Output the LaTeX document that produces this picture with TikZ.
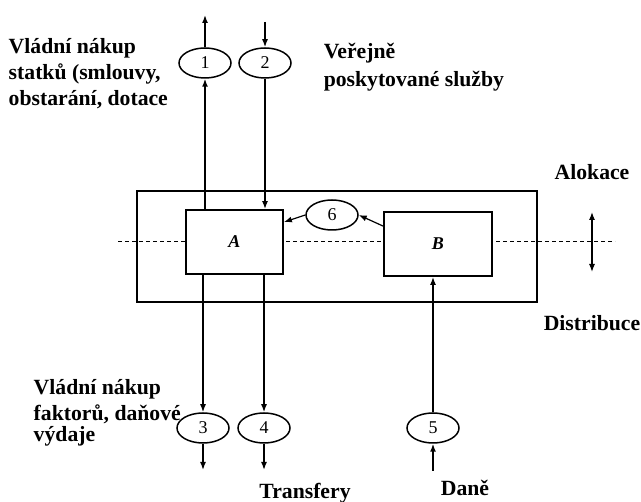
\documentclass[tikz,border=0pt]{standalone}
\usepackage{fontspec}
\setmainfont{Liberation Serif}
\usetikzlibrary{arrows.meta,shapes.geometric}
\begin{document}
\begin{tikzpicture}[x=1pt,y=-1pt,
  line width=1.5pt,
  tip/.style={-{Latex[length=8pt,width=6pt]}},
  oval/.style={draw,ellipse,minimum width=52pt,minimum height=30pt,inner sep=0pt,fill=white,font=\fontsize{18}{18}\selectfont},
  box/.style={draw,line width=1.8pt,fill=white,inner sep=0pt,font=\fontsize{18}{18}\selectfont\bfseries\itshape},
  lbl/.style={align=left,inner sep=0pt,font=\fontsize{21.7}{26}\selectfont\bfseries}]
\useasboundingbox (0,0) rectangle (641,502);
% outer frame
\node[draw,line width=1.8pt,minimum width=400pt,minimum height=111pt,inner sep=0pt] (frame) at (337,246.5) {};
% dashed line
\coordinate (dl) at (118,241);
\coordinate (dr) at (615,241);
\draw[line width=0.8pt,dash pattern=on 4pt off 3pt] (dl) -- (dr);
% boxes
\node[box,minimum width=97pt,minimum height=64pt] (A) at (234.5,242) {A};
\node[box,minimum width=108pt,minimum height=64pt] (B) at (438,244) {B};
% ellipses
\node[oval] (e1) at (205,63) {1};
\node[oval] (e2) at (265,63) {2};
\node[oval] (e3) at (203,428) {3};
\node[oval] (e4) at (264,428) {4};
\node[oval] (e5) at (433,428) {5};
\node[oval] (e6) at (332,215) {6};
% free ends
\coordinate (t1) at (205,15);
\coordinate (t2) at (265,22);
\coordinate (b3) at (203,470);
\coordinate (b4) at (264,470);
\coordinate (b5) at (433,471);
% connectors
\draw[tip] (A.north -| e1) -- (e1.south);
\draw[tip] (e1.north) -- (t1);
\draw[tip] (t2) -- (e2.north);
\draw[tip] (e2.south) -- (A.north -| e2);
\draw[tip] (A.south -| e3) -- (e3.north);
\draw[tip] (e3.south) -- (b3);
\draw[tip] (A.south -| e4) -- (e4.north);
\draw[tip] (e4.south) -- (b4);
\draw[tip] (b5) -- (e5.south);
\draw[tip] (e5.north) -- (B.south -| e5);
\draw[tip,line width=1.2pt] ([yshift=-15pt]B.north west) -- (e6.east);
\draw[tip,line width=1.2pt] (e6.west) -- ([yshift=-13pt]A.north east);
% allocation arrow
\coordinate (aa) at (592,212);
\coordinate (ab) at (592,272);
\draw[{Latex[length=8pt,width=6pt]}-{Latex[length=8pt,width=6pt]},line width=1.2pt] (aa) -- (ab);
% labels
\node[lbl,anchor=west] (l1) at (8,74) {Vládní nákup\\statků (smlouvy,\\obstarání, dotace};
\node[lbl,anchor=west,font=\fontsize{21.7}{28}\selectfont\bfseries] (l2) at (323,67) {Veřejně\\poskytované služby};
\node[lbl] (l3) at (592,172) {Alokace};
\node[lbl,anchor=west] (l4) at (543,323) {Distribuce};
\node[lbl,anchor=north west,font=\fontsize{21.7}{21.7}\selectfont\bfseries] (l5) at (33,379) {Vládní nákup\\[4pt]faktorů, daňové\\[-1pt]výdaje};
\node[lbl] (l6) at (305,493) {Transfery};
\node[lbl] (l7) at (465,488) {Daně};
\end{tikzpicture}
\end{document}
